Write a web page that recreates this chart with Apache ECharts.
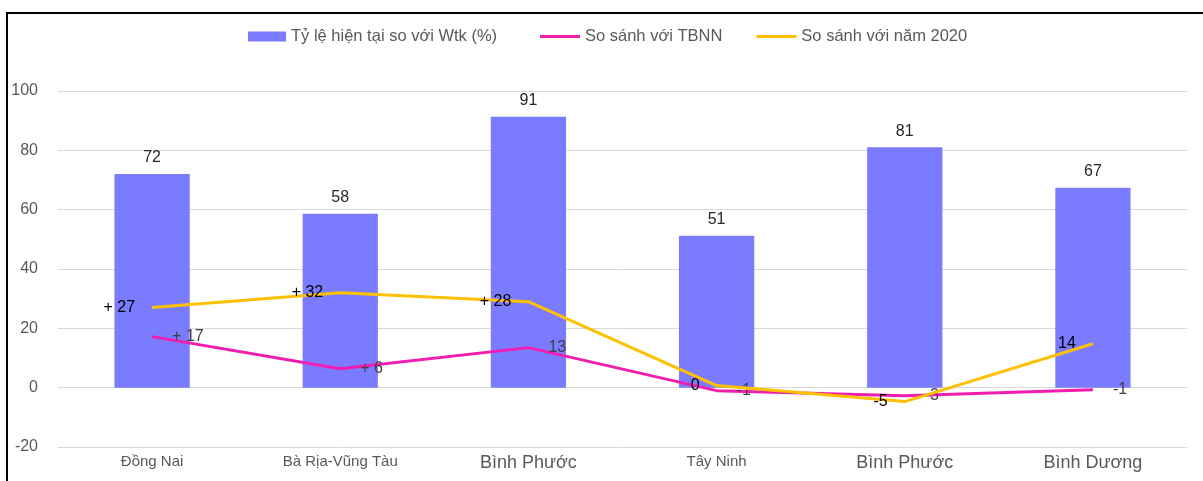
<!DOCTYPE html>
<html>
<head>
<meta charset="utf-8">
<script src="https://cdn.jsdelivr.net/npm/echarts@6/dist/echarts.min.js"></script>
<style>
html,body{margin:0;padding:0;background:#fff;}
#chart{width:1203px;height:481px;}
</style>
</head>
<body>
<div id="chart"></div>
<script>
var categories = ['Đồng Nai', 'Bà Rịa-Vũng Tàu', 'Bình Phước', 'Tây Ninh', 'Bình Phước', 'Bình Dương'];
var seriesNames = ['Tỷ lệ hiện tại so với Wtk (%)', 'So sánh với TBNN', 'So sánh với năm 2020'];
var ratioValues = [72, 58.6, 91.3, 51.2, 81, 67.4];
var ratioLabels = ['72', '58', '91', '51', '81', '67'];
var tbnnValues = [17.2, 6.4, 13.5, -1, -2.7, -0.7];
var tbnnLabels = ['+ 17', '+ 6', '13', '-1', '-3', '-1'];
var y2020Values = [27, 32, 29, 0.7, -4.7, 14.8];
var y2020Labels = ['+ 27', '+ 32', '+ 28', '0', '-5', '14'];
var yTicks = [-20, 0, 20, 40, 60, 80, 100];

var largeLabelIdx = {2: true, 4: true, 5: true};
var FONT = '"Liberation Sans", Arial, sans-serif';
var legendText = {fontSize: 16.5, color: '#595959', fontFamily: FONT};

var chart = echarts.init(document.getElementById('chart'));
chart.setOption({
  animation: false,
  textStyle: {fontFamily: FONT},
  graphic: [
    {type: 'line', shape: {x1: 6, y1: 13, x2: 1203, y2: 13}, style: {stroke: '#000', lineWidth: 2}},
    {type: 'line', shape: {x1: 7, y1: 12, x2: 7, y2: 481}, style: {stroke: '#000', lineWidth: 2}}
  ],
  legend: [
    {
      top: 23, left: 243,
      itemWidth: 38, itemHeight: 10, itemGap: 4,
      textStyle: legendText,
      data: [{name: seriesNames[0], icon: 'rect'}]
    },
    {
      top: 23, left: 535,
      itemWidth: 40, itemHeight: 3, itemGap: 34,
      textStyle: legendText,
      data: [{name: seriesNames[1], icon: 'rect'}, {name: seriesNames[2], icon: 'rect'}]
    }
  ],
  grid: {left: 58, right: 16, top: 91, bottom: 34, containLabel: false},
  xAxis: {
    type: 'category',
    data: categories,
    axisLine: {show: false},
    axisTick: {show: false},
    axisLabel: {
      margin: 7,
      color: '#595959',
      formatter: function (v, i) {
        return largeLabelIdx[i] ? '{b|' + v + '}' : '{s|' + v + '}';
      },
      rich: {
        s: {fontSize: 15, color: '#595959', fontFamily: FONT},
        b: {fontSize: 18, color: '#595959', fontFamily: FONT}
      }
    }
  },
  yAxis: {
    type: 'value',
    min: yTicks[0],
    max: yTicks[yTicks.length - 1],
    interval: 20,
    axisLine: {show: false},
    axisTick: {show: false},
    axisLabel: {fontSize: 16, color: '#595959', margin: 20},
    splitLine: {lineStyle: {color: '#d9d9d9', width: 1}}
  },
  series: [
    {
      name: seriesNames[0],
      type: 'bar',
      data: ratioValues,
      barWidth: '40%',
      itemStyle: {color: '#7B7BFF'},
      label: {
        show: true,
        position: 'top',
        distance: 8,
        fontSize: 16,
        color: '#262626',
        formatter: function (p) { return ratioLabels[p.dataIndex]; }
      }
    },
    {
      name: seriesNames[1],
      type: 'line',
      data: tbnnValues,
      symbol: 'circle',
      symbolSize: 0.01,
      showSymbol: true,
      lineStyle: {color: '#F01DB0', width: 3},
      itemStyle: {color: '#F01DB0'},
      label: {
        show: true,
        position: 'right',
        distance: 20,
        fontSize: 16,
        color: '#404040',
        formatter: function (p) { return tbnnLabels[p.dataIndex]; }
      },
      z: 3
    },
    {
      name: seriesNames[2],
      type: 'line',
      data: y2020Values,
      symbol: 'circle',
      symbolSize: 0.01,
      showSymbol: true,
      lineStyle: {color: '#FFC000', width: 3},
      itemStyle: {color: '#FFC000'},
      label: {
        show: true,
        position: 'left',
        distance: 17,
        fontSize: 16,
        color: '#000',
        formatter: function (p) { return y2020Labels[p.dataIndex]; }
      },
      z: 4
    }
  ]
});
</script>
</body>
</html>
